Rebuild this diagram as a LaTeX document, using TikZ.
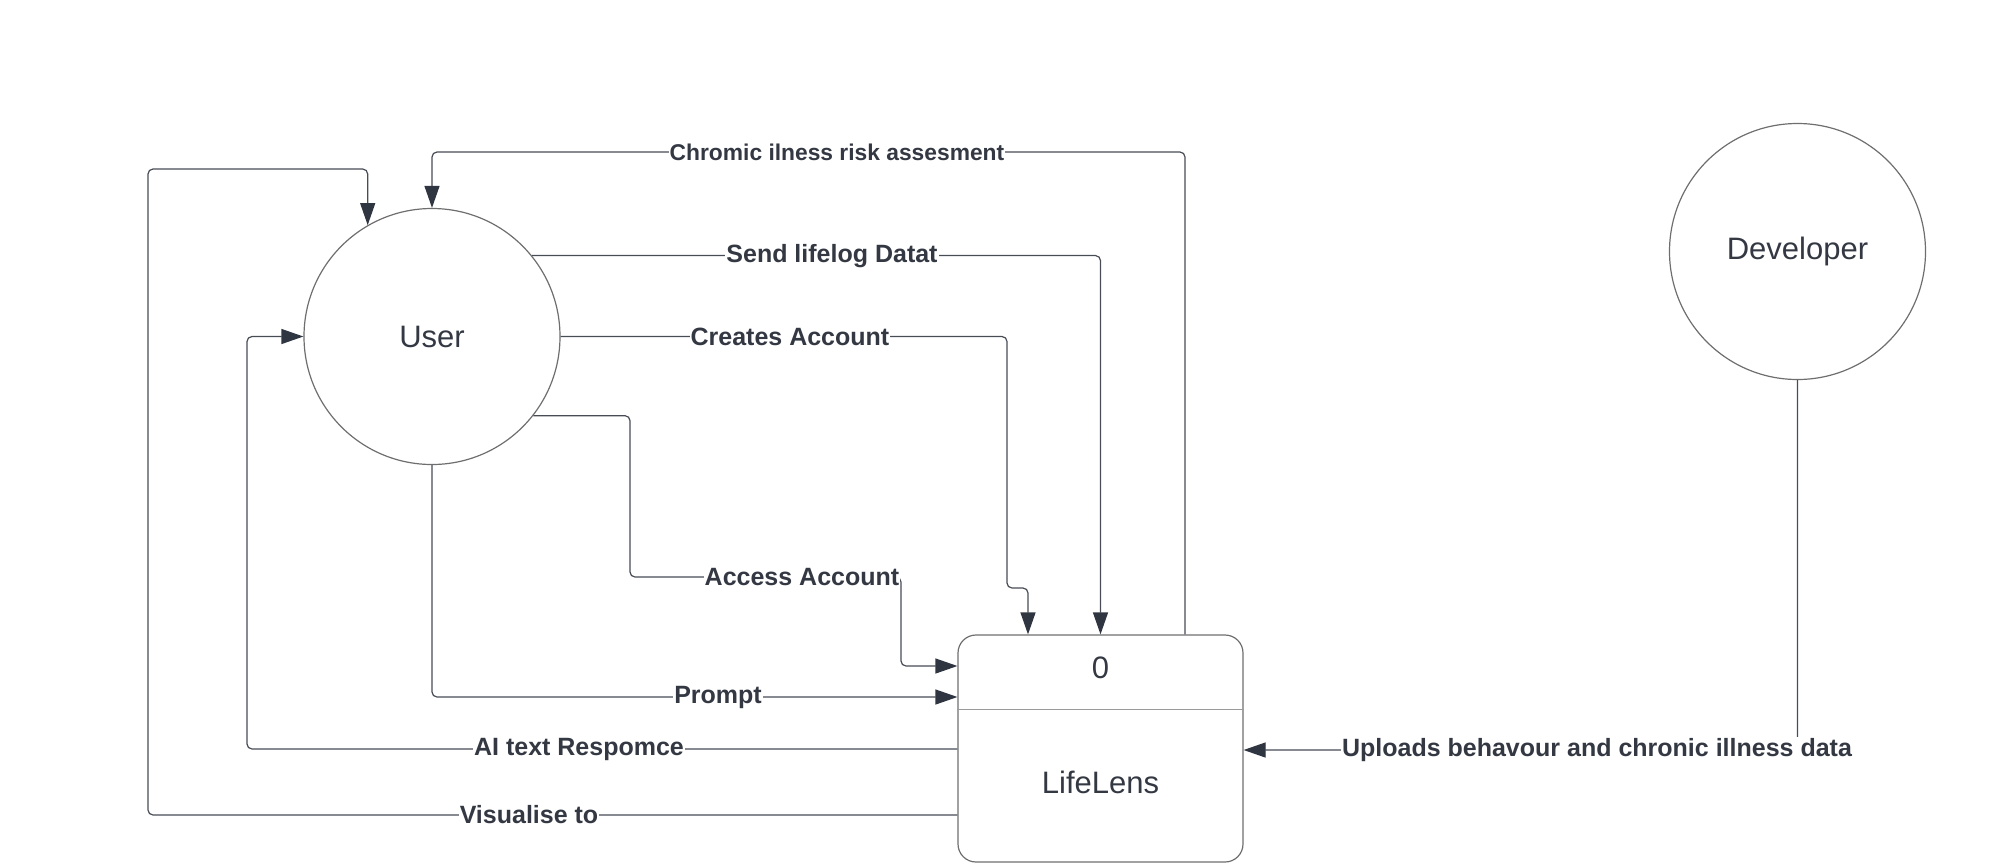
\documentclass[tikz,border=0pt]{standalone}
\usepackage{fontspec}
\setmainfont{Liberation Sans}
\usetikzlibrary{arrows.meta}
\definecolor{linegray}{HTML}{474C55}
\definecolor{tipgray}{HTML}{2F3541}
\definecolor{edgegray}{HTML}{6E6E6E}
\definecolor{textgray}{HTML}{333842}
\begin{document}
\begin{tikzpicture}[x=0.5pt, y=-0.5pt,
    flow/.style={draw=linegray, line width=0.6pt, rounded corners=2.5pt, -{Triangle[length=11pt,width=7.5pt,color=tipgray]}},
    lbl/.style={fill=white, inner sep=0.5pt, text=textgray, font=\bfseries\fontsize{12.5}{14}\selectfont},
    entity/.style={circle, draw=edgegray, line width=0.6pt, minimum size=128pt, inner sep=0pt, text=textgray, font=\fontsize{15.5}{18}\selectfont},
    caption/.style={text=textgray, font=\fontsize{15.5}{18}\selectfont}]
    \useasboundingbox (0,0) rectangle (1999,863);
    \node[entity] (user) at (432,336.5) {User};
    \node[entity] (dev) at (1797.5,251.5) {Developer};
    \node[draw=edgegray, line width=0.6pt, rounded corners=9pt, minimum width=142.5pt, minimum height=113.5pt] (lifelens) at (1100.5,748.5) {};
    \draw[edgegray!70, line width=0.5pt] (lifelens.west |- 0,709) -- (lifelens.east |- 0,709);
    \node[caption] (procid) at (1100.5,668) {0};
    \node[caption] (procname) at (1100.5,782) {LifeLens};
    \draw[flow] (lifelens.north -| 1185,0) |- (432,152) -- (user.north);
    \draw[flow] (user.39) -| (lifelens.north);
    \draw[flow] (user.east) -| (1007,588) -| (lifelens.north -| 1028,0);
    \draw[flow] (user.-38) -| (630,577) -| (901,666) -- (lifelens.west |- 0,666);
    \draw[flow] (user.south) |- (lifelens.west |- 0,697);
    \draw[flow] (lifelens.west |- 0,749) -| (247,336.5) -- (user.west);
    \draw[flow] (lifelens.west |- 0,815) -| (148,169) -| (user.120);
    \draw[flow] (dev.south) |- (lifelens.east |- 0,750);
    \node[lbl, font=\bfseries\fontsize{11.4}{13}\selectfont] (lchronic) at (837,152) {Chromic ilness risk assesment};
    \node[lbl] (lsend) at (832,256) {Send lifelog Datat};
    \node[lbl] (lcreate) at (790,336.5) {Creates Account};
    \node[lbl] (laccess) at (802,577) {Access Account};
    \node[lbl] (lprompt) at (718,697) {Prompt};
    \node[lbl] (lairesp) at (579,749) {AI text Respomce};
    \node[lbl] (lvisual) at (529,815) {Visualise to};
    \node[lbl] (lupload) at (1597,750) {Uploads behavour and chronic illness data};
\end{tikzpicture}
\end{document}
